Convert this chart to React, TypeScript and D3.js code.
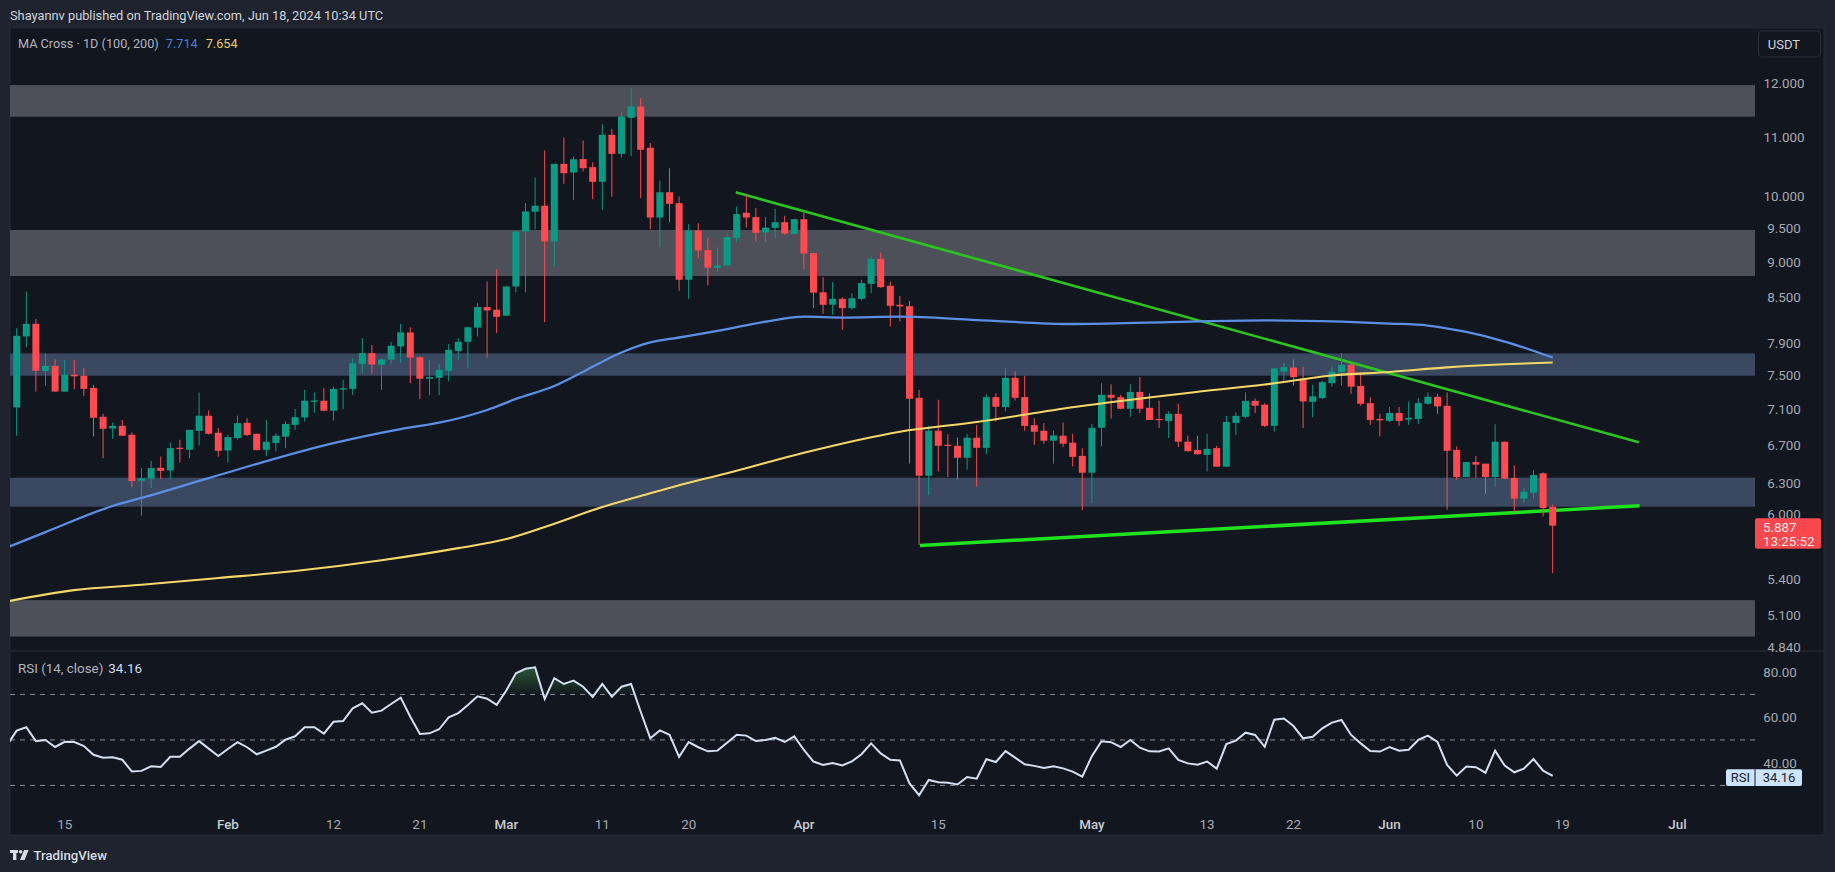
import React from "react";
import * as d3 from "d3";

const W = 1835;
const H = 872;

// Daily candles from 2024-01-10 to 2024-06-18
const firstDay = "2024-01-10";
const openValues = [7.121,7.982,8.145,7.549,7.613,7.304,7.505,7.493,7.348,7.014,6.882,6.912,6.814,6.328,6.349,6.461,6.434,6.673,6.651,6.857,7.026,6.836,6.644,6.777,6.946,6.825,6.651,6.724,6.792,6.923,7.007,7.185,7.197,7.083,7.328,7.336,7.637,7.770,7.625,7.689,7.855,8.033,7.719,7.456,7.468,7.553,7.795,7.914,8.096,8.368,8.332,8.252,8.649,9.449,9.755,9.849,9.300,10.536,10.391,10.619,10.480,10.236,11.040,10.707,11.346,11.556,10.812,9.665,10.065,9.891,8.744,9.464,9.171,8.914,8.947,9.355,9.739,9.671,9.435,9.504,9.592,9.415,9.639,9.126,8.569,8.399,8.479,8.354,8.479,8.687,9.042,8.659,8.399,8.380,7.231,6.379,6.858,6.705,6.694,6.566,6.781,6.672,7.239,7.124,7.468,7.239,6.920,6.858,6.749,6.803,6.727,6.586,6.410,6.891,7.266,7.239,7.105,7.300,7.116,6.989,6.967,7.047,6.738,6.650,6.597,6.669,6.473,6.945,7.013,7.196,7.151,6.912,7.543,7.593,7.456,7.185,7.228,7.403,7.535,7.627,7.370,7.170,6.989,6.967,7.058,6.982,6.989,7.162,7.243,7.139,6.650,6.366,6.521,6.504,6.366,6.738,6.356,6.148,6.207,6.404,6.069];
const highValues = [8.088,8.579,8.207,7.770,7.693,7.685,7.685,7.585,7.384,7.048,6.950,6.980,6.839,6.458,6.533,6.579,6.731,6.760,6.868,7.292,7.086,6.890,6.814,7.026,6.999,6.825,6.980,6.832,6.961,7.102,7.324,7.292,7.344,7.364,7.445,7.706,7.961,7.872,7.706,7.914,8.145,8.100,7.727,7.685,7.637,7.884,7.961,8.109,8.421,8.720,8.895,8.659,9.459,9.891,10.308,10.766,10.536,10.993,10.660,10.941,10.563,11.229,11.143,11.451,11.900,11.710,10.894,10.258,10.463,9.996,9.561,9.576,9.360,9.211,9.415,9.838,10.022,9.812,9.671,9.802,9.692,9.639,9.734,9.126,8.782,8.711,8.501,8.555,8.744,9.077,9.136,8.720,8.519,8.450,7.324,6.912,7.208,6.821,6.785,6.825,6.923,7.274,7.285,7.585,7.545,7.492,6.997,6.942,6.858,6.949,6.825,6.669,6.934,7.403,7.391,7.266,7.391,7.476,7.285,7.196,7.078,7.162,6.803,6.803,6.825,6.694,7.024,7.062,7.296,7.223,7.170,7.581,7.648,7.691,7.597,7.382,7.431,7.606,7.768,7.640,7.535,7.239,7.047,7.124,7.124,7.189,7.228,7.293,7.278,7.293,6.687,6.521,6.586,6.504,6.931,6.738,6.487,6.253,6.435,6.414,6.089];
const lowValues = [6.803,7.846,7.304,7.372,7.304,7.304,7.332,7.254,6.796,6.561,6.770,6.803,6.263,5.982,6.253,6.345,6.345,6.516,6.561,6.698,6.817,6.579,6.516,6.760,6.803,6.644,6.586,6.633,6.669,6.868,6.961,7.056,7.075,6.972,7.102,7.265,7.525,7.517,7.324,7.637,7.645,7.404,7.216,7.261,7.265,7.425,7.685,7.585,7.982,7.715,8.024,8.252,8.569,8.569,9.484,8.167,8.923,10.203,9.943,10.408,9.954,9.786,9.996,10.643,10.672,9.970,9.484,9.216,9.592,8.588,8.475,9.052,8.664,8.862,8.947,9.285,9.509,9.300,9.300,9.350,9.400,9.415,8.895,8.354,8.278,8.265,8.067,8.332,8.457,8.555,8.631,8.109,8.176,6.504,5.706,6.181,6.424,6.366,6.338,6.442,6.269,6.604,6.960,7.074,7.200,6.858,6.705,6.716,6.504,6.680,6.476,6.034,6.105,6.687,6.993,7.101,7.016,7.055,6.978,6.887,6.778,6.680,6.632,6.597,6.424,6.469,6.469,6.807,6.997,7.055,6.898,6.851,7.436,7.374,6.887,7.009,7.216,7.362,7.374,7.278,7.139,6.923,6.796,6.956,6.912,6.923,6.934,7.151,7.047,6.040,6.338,6.366,6.356,6.197,6.269,6.345,6.014,6.105,6.155,5.975,5.453];
const closeValues = [7.990,8.145,7.553,7.613,7.304,7.505,7.485,7.336,7.003,6.879,6.912,6.803,6.325,6.352,6.458,6.430,6.669,6.662,6.868,7.026,6.825,6.640,6.788,6.942,6.810,6.648,6.738,6.803,6.934,7.010,7.197,7.200,7.083,7.336,7.344,7.645,7.770,7.629,7.693,7.863,8.033,7.715,7.456,7.476,7.565,7.812,7.914,8.100,8.368,8.323,8.238,8.649,9.449,9.760,9.849,9.300,10.536,10.380,10.614,10.463,10.236,11.040,10.707,11.371,11.556,10.777,9.665,10.065,9.880,8.744,9.464,9.166,8.914,8.947,9.365,9.718,9.665,9.430,9.509,9.592,9.420,9.639,9.121,8.564,8.399,8.479,8.354,8.488,8.697,9.042,8.640,8.385,8.377,7.220,6.379,6.858,6.694,6.694,6.566,6.781,6.672,7.239,7.128,7.468,7.231,6.912,6.847,6.749,6.807,6.716,6.576,6.410,6.891,7.266,7.231,7.105,7.300,7.105,6.978,6.982,7.047,6.738,6.636,6.604,6.661,6.473,6.955,7.024,7.196,7.139,6.912,7.581,7.597,7.476,7.189,7.247,7.415,7.543,7.627,7.362,7.162,6.978,6.974,7.058,6.967,7.001,7.170,7.243,7.132,6.640,6.366,6.521,6.494,6.366,6.738,6.349,6.148,6.217,6.386,6.056,5.887];

// RSI(14): one value per day, starting the day before the first candle
const rsiValues = [47.8,54.1,55.6,49.5,50.0,46.9,49.2,49.1,47.3,43.5,42.2,42.4,41.3,36.1,36.4,38.4,38.1,42.6,42.6,46.2,49.5,46.2,42.9,46.0,49.0,46.8,43.7,45.3,47.0,50.1,51.6,55.6,55.6,52.8,58.0,58.3,63.9,66.1,62.0,62.9,65.8,68.6,60.2,52.6,52.9,54.7,59.9,61.8,65.4,69.2,68.1,65.4,71.7,79.3,81.3,81.9,68.0,77.2,74.6,76.1,73.4,68.9,74.6,69.0,73.4,74.6,62.4,50.7,54.2,52.3,42.6,49.1,46.8,45.0,45.3,48.8,52.3,51.9,49.5,50.0,50.9,49.1,51.6,45.6,40.5,39.0,39.9,38.8,40.6,43.7,48.5,44.1,41.3,41.0,30.9,25.7,32.4,31.4,31.2,30.4,33.7,33.0,41.5,40.3,45.1,42.2,39.3,38.6,37.7,38.4,37.5,36.1,33.9,42.9,49.4,49.0,46.9,50.0,46.6,45.0,44.9,46.3,41.2,39.7,39.1,40.5,37.4,48.2,49.7,53.2,52.2,47.0,58.9,59.4,56.1,50.7,51.4,55.1,57.6,58.8,52.2,48.5,45.1,44.9,46.9,45.3,45.7,50.0,51.9,49.1,39.0,34.3,38.3,38.0,35.6,45.3,38.7,35.8,37.4,41.6,36.5,34.16];

// Moving averages read at sample days (days counted from firstDay)
const ma100Days = [-1,0,3,10,13,20,33,40,44,49,52,56,59,63,66,69,73,79,82,86,92,100,110,120,130,138,143,147,151,155,160];
const ma100Values = [5.683,5.719,5.826,6.076,6.155,6.355,6.723,6.877,6.947,7.091,7.218,7.370,7.541,7.778,7.905,7.968,8.052,8.195,8.239,8.226,8.239,8.195,8.143,8.168,8.191,8.173,8.149,8.123,8.039,7.916,7.714];
const ma200Days = [-1,6,13,21,29,38,46,51,55,61,65,70,74,82,92,100,110,122,130,137,143,149,155,160];
const ma200Values = [5.211,5.307,5.353,5.411,5.472,5.568,5.678,5.761,5.874,6.066,6.174,6.308,6.404,6.619,6.847,6.955,7.122,7.288,7.387,7.495,7.537,7.594,7.632,7.654];

// Trend lines: [days from firstDay, price]
const upperTrend: [number, number][] = [[74.9, 10.065], [168.97, 6.732]];
const lowerTrend: [number, number][] = [[94.1, 5.702], [169.05, 6.079]];

// Support and resistance zones: [upper price, lower price, kind]
const zoneTops = [11.96, 9.473, 7.767, 6.359, 5.222];
const zoneBottoms = [11.367, 8.796, 7.493, 6.069, 4.925];
const zoneKinds = ["gray", "gray", "blue", "blue", "gray"];

const priceTicks = ["12.000","11.000","10.000","9.500","9.000","8.500","7.900","7.500","7.100","6.700","6.300","6.000","5.400","5.100","4.840"];
const rsiTicks = ["80.00", "60.00", "40.00"];
const rsiBands = [70, 50, 30];
const timeTickDates = ["2024-01-15","2024-02-01","2024-02-12","2024-02-21","2024-03-01","2024-03-11","2024-03-20","2024-04-01","2024-04-15","2024-05-01","2024-05-13","2024-05-22","2024-06-01","2024-06-10","2024-06-19","2024-07-01"];
const timeTickLabels = ["15","Feb","12","21","Mar","11","20","Apr","15","May","13","22","Jun","10","19","Jul"];

const BG = "#12161f";
const FRAME = "#1f232d";
const UP = "#0b9a84";
const DOWN = "#fe4a50";
const FONT = "Roboto, 'Liberation Sans', sans-serif";

const day0 = new Date(firstDay + "T00:00:00Z");
const dayAt = (n: number) => new Date(day0.getTime() + n * 86400000);

const x = d3.scaleUtc().domain([dayAt(0), dayAt(160)]).range([16.7, 1552.7]);
const y = d3.scaleLog().domain([12, 5.4]).range([83, 579.3]);
const yRsi = d3.scaleLinear().domain([80, 40]).range([671.7, 762.7]);

const PANE_L = 10;
const PANE_R = 1824;
const PLOT_R = 1755;
const PANE_T = 28;
const DIV_Y = 651;
const PANE_B = 835;

const priceLine = d3.line<[number, number]>().x((d) => x(dayAt(d[0]))).y((d) => y(d[1]));
const ma100Line = d3.line<number>().x((_, i) => x(dayAt(ma100Days[i]))).y((d) => y(d)).curve(d3.curveMonotoneX);
const ma200Line = d3.line<number>().x((_, i) => x(dayAt(ma200Days[i]))).y((d) => y(d)).curve(d3.curveMonotoneX);
const rsiLine = d3.line<number>().x((_, i) => x(dayAt(i - 1))).y((d) => yRsi(d));
const rsiArea = d3.area<number>().x((_, i) => x(dayAt(i - 1))).y0(yRsi(70)).y1((d) => yRsi(d));

export default function App() {
  return (
    <svg
      width={W}
      height={H}
      viewBox={`0 0 ${W} ${H}`}
      style={{ position: "fixed", left: 0, top: 0, display: "block" }}
      fontFamily={FONT}
    >
      <defs>
        <clipPath id="mainClip">
          <rect x={PANE_L} y={PANE_T} width={PLOT_R - PANE_L} height={DIV_Y - PANE_T} />
        </clipPath>
        <clipPath id="rsiClip">
          <rect x={PANE_L} y={DIV_Y} width={PLOT_R - PANE_L} height={PANE_B - DIV_Y} />
        </clipPath>
        <clipPath id="overClip">
          <rect x={PANE_L} y={DIV_Y} width={PLOT_R - PANE_L} height={yRsi(70) - DIV_Y} />
        </clipPath>
        <linearGradient id="overFill" x1="0" x2="0" y1={yRsi(82)} y2={yRsi(70)} gradientUnits="userSpaceOnUse">
          <stop offset="0" stopColor="#4caf50" stopOpacity={0.42} />
          <stop offset="1" stopColor="#4caf50" stopOpacity={0.02} />
        </linearGradient>
      </defs>

      <rect width={W} height={H} fill={FRAME} />
      <rect x={PANE_L} y={PANE_T} width={PANE_R - PANE_L} height={PANE_B - PANE_T} fill={BG} stroke="#2a2e39" strokeWidth={0.8} />
      <line x1={PANE_L} x2={PANE_R} y1={DIV_Y} y2={DIV_Y} stroke="#2a2e39" strokeWidth={1.2} />

      <text x={10} y={19.5} fontSize={12.8} fill="#d1d4dc">Shayannv published on TradingView.com, Jun 18, 2024 10:34 UTC</text>
      <text x={18} y={47.5} fontSize={12.7} fill="#b2b5be">
        MA Cross · 1D (100, 200)
        <tspan dx={7} fill="#4a7fd6">7.714</tspan>
        <tspan dx={8} fill="#eacb69">7.654</tspan>
      </text>

      <g clipPath="url(#mainClip)">
        {zoneTops.map((top, i) => (
          <rect
            key={i}
            x={PANE_L}
            width={PLOT_R - PANE_L}
            y={y(top)}
            height={y(zoneBottoms[i]) - y(top)}
            fill={zoneKinds[i] === "gray" ? "#4d5058" : "#3a4860"}
          />
        ))}
        <path d={priceLine(upperTrend) ?? ""} fill="none" stroke="#2bc51f" strokeWidth={2.6} />
        <path d={priceLine(lowerTrend) ?? ""} fill="none" stroke="#1fe31f" strokeWidth={3.5} />
        {openValues.map((open, i) => {
          const close = closeValues[i];
          const cx = x(dayAt(i));
          const color = close >= open ? UP : DOWN;
          const top = y(Math.max(open, close));
          const bottom = y(Math.min(open, close));
          return (
            <g key={i}>
              <line x1={cx} x2={cx} y1={y(highValues[i])} y2={y(lowValues[i])} stroke={color} strokeWidth={1} />
              <rect x={cx - 3.5} width={7} y={top} height={Math.max(1.2, bottom - top)} fill={color} />
            </g>
          );
        })}
        <path d={ma100Line(ma100Values) ?? ""} fill="none" stroke="#5b8fe6" strokeWidth={2.3} />
        <path d={ma200Line(ma200Values) ?? ""} fill="none" stroke="#f5d869" strokeWidth={2.1} />
      </g>

      {priceTicks.map((t) => (
        <text key={t} x={1784} y={y(+t)} dy="0.36em" textAnchor="middle" fontSize={13.4} fill="#a6a9b1">{t}</text>
      ))}

      <rect x={1758.5} y={31} width={62} height={26} rx={4} fill={BG} stroke="#2a2e39" strokeWidth={1.2} />
      <text x={1784} y={44} dy="0.36em" textAnchor="middle" fontSize={13} fill="#d1d4dc">USDT</text>

      <rect x={1755} y={518.3} width={66} height={30.4} rx={2} fill="#f9474e" />
      <text x={1763} y={526.8} dy="0.36em" fontSize={13.4} fill="#fde4e5">5.887</text>
      <text x={1763} y={540.8} dy="0.36em" fontSize={13.4} fill="#fde4e5">13:25:52</text>

      <text x={18} y={667.8} dy="0.36em" fontSize={13.4} fill="#b2b5be">
        RSI (14, close)
        <tspan dx={5} fill="#d1dcf0">34.16</tspan>
      </text>

      {rsiBands.map((b) => (
        <line key={b} x1={PANE_L} x2={PLOT_R} y1={yRsi(b)} y2={yRsi(b)} stroke="#8b8e96" strokeWidth={1} strokeDasharray="5 5" />
      ))}
      <g clipPath="url(#rsiClip)">
        <path d={rsiArea(rsiValues) ?? ""} fill="url(#overFill)" clipPath="url(#overClip)" />
        <path d={rsiLine(rsiValues) ?? ""} fill="none" stroke="#d3e0f2" strokeWidth={2} />
      </g>

      {rsiTicks.map((t) => (
        <text key={t} x={1780} y={yRsi(+t)} dy="0.36em" textAnchor="middle" fontSize={13.4} fill="#a6a9b1">{t}</text>
      ))}
      <rect x={1726} y={769.3} width={76} height={16.8} rx={2} fill="#cbe3fc" />
      <line x1={1755} x2={1755} y1={769.3} y2={786.1} stroke="#12161f" strokeWidth={1} />
      <text x={1740.5} y={777.7} dy="0.36em" textAnchor="middle" fontSize={13} fill="#1b2230">RSI</text>
      <text x={1779} y={777.7} dy="0.36em" textAnchor="middle" fontSize={13} fill="#1b2230">34.16</text>

      {timeTickDates.map((d, i) => {
        const label = timeTickLabels[i];
        const major = /[A-Za-z]/.test(label);
        return (
          <text
            key={d}
            x={x(new Date(d + "T00:00:00Z"))}
            y={823.8}
            dy="0.36em"
            textAnchor="middle"
            fontSize={13.4}
            fontWeight={major ? 500 : 400}
            fill={major ? "#c8cbd2" : "#a6a9b1"}
          >
            {label}
          </text>
        );
      })}

      <g fill="#d8dbe2">
        <rect x={10} y={850} width={8} height={3} />
        <rect x={13} y={850} width={3.4} height={10} />
        <circle cx={20.6} cy={851.8} r={1.8} />
        <polygon points="24,850 28.6,850 24.6,860 20,860" />
      </g>
      <text x={33.5} y={855.5} dy="0.36em" fontSize={13.2} fontWeight={500} fill="#d8dbe2">TradingView</text>
    </svg>
  );
}
